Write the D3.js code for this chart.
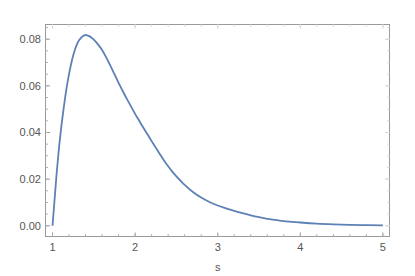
<!DOCTYPE html>
<html lang="en">
<head>
<meta charset="UTF-8">
<title>Plot</title>
<script src="https://d3js.org/d3.v7.min.js"></script>
<style>
  body { margin: 0; background: #fff; }
  text { font-family: "Liberation Sans", Arial, sans-serif; }
</style>
</head>
<body>
<svg id="chart" width="415" height="276"></svg>
<script>
  // curve points
  const sValues = [1.00, 1.02, 1.05, 1.08, 1.10, 1.13, 1.17, 1.20, 1.25, 1.30, 1.35, 1.40, 1.45, 1.50,
    1.55, 1.60, 1.65, 1.70, 1.75, 1.80, 1.85, 1.90, 1.95, 2.00, 2.05, 2.10, 2.15, 2.20, 2.25,
    2.30, 2.35, 2.40, 2.45, 2.50, 2.60, 2.70, 2.80, 2.90, 3.00, 3.10, 3.20, 3.30, 3.40, 3.50,
    3.60, 3.70, 3.80, 3.90, 4.00, 4.20, 4.40, 4.60, 4.80, 5.00];
  const densityValues = [0.0000, 0.0090, 0.0225, 0.0340, 0.0405, 0.0490, 0.0590, 0.0650, 0.0730, 0.0782,
    0.0808, 0.0818, 0.0812, 0.0798, 0.0778, 0.0754, 0.0722, 0.0687, 0.0650, 0.0613, 0.0578,
    0.0544, 0.0512, 0.0480, 0.0450, 0.0420, 0.0392, 0.0363, 0.0335, 0.0307, 0.0280, 0.0255,
    0.0232, 0.0212, 0.0175, 0.0145, 0.0121, 0.0102, 0.0087, 0.0075, 0.0064, 0.0054, 0.0045,
    0.0037, 0.0030, 0.0025, 0.0020, 0.0017, 0.0014, 0.0009, 0.0006, 0.0004, 0.0003, 0.0002];
  const xTicks = [1, 2, 3, 4, 5];
  const yTicks = [0, 0.02, 0.04, 0.06, 0.08];
  const xLabel = "s";

  const svg = d3.select("#chart");
  const frame = { left: 45.5, right: 389.5, top: 24.5, bottom: 236.5 };

  const x = d3.scaleLinear().domain([0.915, 5.08]).range([frame.left, frame.right]);
  const y = d3.scaleLinear().domain([-0.0046, 0.0863]).range([frame.bottom, frame.top]);

  const xMinor = d3.range(0.8, 5.21, 0.2).filter(v => v >= 0.915 && v <= 5.08);
  const yMinor = d3.range(0, 0.0863, 0.005);

  // frame
  svg.append("rect")
    .attr("x", frame.left).attr("y", frame.top)
    .attr("width", frame.right - frame.left).attr("height", frame.bottom - frame.top)
    .attr("fill", "none").attr("stroke", "#9a9a9a").attr("stroke-width", 1);

  // ticks: bottom/left darker, top/right lighter
  function xTickLines(vals, len, y0, dir, color) {
    svg.append("g").selectAll("line").data(vals).join("line")
      .attr("x1", d => x(d)).attr("x2", d => x(d))
      .attr("y1", y0).attr("y2", y0 + dir * len)
      .attr("stroke", color).attr("stroke-width", 1);
  }
  function yTickLines(vals, len, x0, dir, color) {
    svg.append("g").selectAll("line").data(vals).join("line")
      .attr("y1", d => y(d)).attr("y2", d => y(d))
      .attr("x1", x0).attr("x2", x0 + dir * len)
      .attr("stroke", color).attr("stroke-width", 1);
  }
  xTickLines(xTicks, 4, frame.bottom, -1, "#9a9a9a");
  xTickLines(xMinor, 2.5, frame.bottom, -1, "#b0b0b0");
  xTickLines(xTicks, 4, frame.top, 1, "#d0d0d0");
  xTickLines(xMinor, 2.5, frame.top, 1, "#dddddd");
  yTickLines(yTicks, 4.5, frame.left, 1, "#9a9a9a");
  yTickLines(yMinor, 2.5, frame.left, 1, "#b0b0b0");
  yTickLines(yTicks, 4.5, frame.right, -1, "#d0d0d0");
  yTickLines(yMinor, 2.5, frame.right, -1, "#dddddd");

  // tick labels
  svg.append("g").selectAll("text").data(xTicks).join("text")
    .attr("x", d => x(d)).attr("y", frame.bottom + 14)
    .attr("text-anchor", "middle")
    .attr("font-size", 11).attr("fill", "#555")
    .text(d => d3.format("d")(d));

  svg.append("g").selectAll("text").data(yTicks).join("text")
    .attr("x", frame.left - 4.5).attr("y", d => y(d) + 4)
    .attr("text-anchor", "end")
    .attr("font-size", 11).attr("fill", "#555")
    .text(d => d3.format(".2f")(d));

  svg.append("text")
    .attr("x", x(3)).attr("y", 271)
    .attr("text-anchor", "middle")
    .attr("font-size", 11).attr("fill", "#555")
    .text(xLabel);

  // curve
  const pts = sValues.map((s, i) => [s, densityValues[i]]);
  const line = d3.line()
    .x(d => x(d[0])).y(d => y(d[1]))
    .curve(d3.curveMonotoneX);

  svg.append("path")
    .datum(pts)
    .attr("d", line)
    .attr("fill", "none")
    .attr("stroke", "#5e81b5")
    .attr("stroke-width", 1.8);
</script>
</body>
</html>
